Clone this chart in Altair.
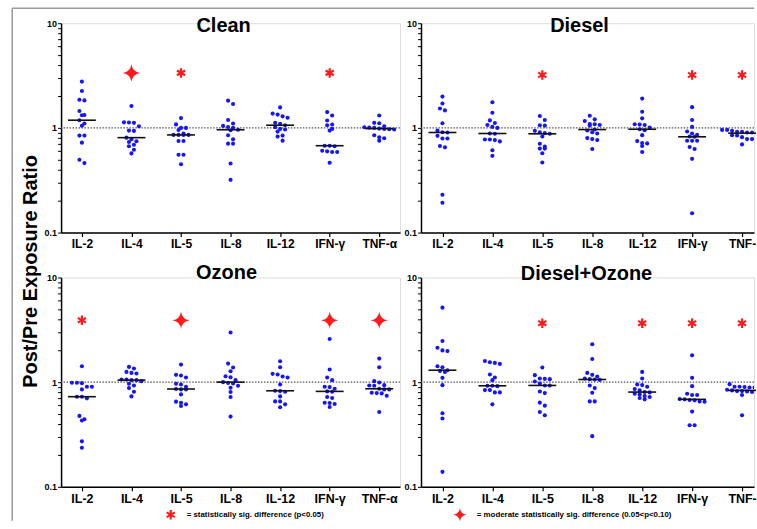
import math
import altair as alt
import pandas as pd

CATS = ["IL-2", "IL-4", "IL-5", "IL-8", "IL-12", "IFN-γ", "TNF-α"]

CLEAN = {
    "IL-2": [2.77, 2.25, 1.86, 1.83, 1.45, 1.33, 1.32, 1.185, 1.10, 1.05, 0.844, 0.844, 0.723, 0.496, 0.461],
    "IL-4": [1.62, 1.13, 1.125, 1.117, 1.037, 0.943, 0.936, 0.807, 0.778, 0.745, 0.733, 0.691, 0.667, 0.619, 0.571],
    "IL-5": [1.24, 1.08, 1.0, 1.0, 0.956, 0.882, 0.857, 0.857, 0.857, 0.857, 0.75, 0.75, 0.554, 0.554, 0.45],
    "IL-8": [1.82, 1.69, 1.19, 1.10, 1.045, 1.02, 1.0, 0.96, 0.95, 0.85, 0.778, 0.707, 0.707, 0.457, 0.319],
    "IL-12": [1.57, 1.37, 1.34, 1.29, 1.25, 1.117, 1.093, 1.061, 1.015, 0.978, 0.964, 0.922, 0.844, 0.826, 0.755],
    "IFN-γ": [1.415, 1.314, 1.176, 1.077, 1.061, 0.978, 0.943, 0.676, 0.676, 0.667, 0.605, 0.597, 0.588, 0.588, 0.464],
    "TNF-α": [1.314, 1.117, 1.109, 1.037, 1.015, 1.007, 1.0, 0.985, 0.978, 0.971, 0.964, 0.85, 0.813, 0.796, 0.755],
}
DIESEL = {
    "IL-2": [1.99, 1.71, 1.53, 1.47, 1.107, 0.944, 0.91, 0.904, 0.84, 0.793, 0.793, 0.671, 0.652, 0.23, 0.193],
    "IL-4": [1.76, 1.395, 1.18, 1.115, 1.067, 1.022, 1.0, 0.884, 0.878, 0.776, 0.776, 0.765, 0.743, 0.611, 0.541],
    "IL-5": [1.298, 1.19, 1.06, 1.052, 0.937, 0.91, 0.891, 0.878, 0.828, 0.706, 0.662, 0.634, 0.634, 0.573, 0.467],
    "IL-8": [1.307, 1.207, 1.164, 1.091, 1.083, 1.067, 1.052, 0.964, 0.944, 0.91, 0.884, 0.799, 0.782, 0.765, 0.629],
    "IL-12": [1.905, 1.426, 1.234, 1.083, 1.075, 1.067, 1.007, 0.971, 0.95, 0.853, 0.748, 0.717, 0.711, 0.671, 0.589],
    "IFN-γ": [1.578, 1.19, 1.022, 0.924, 0.884, 0.859, 0.828, 0.822, 0.754, 0.754, 0.754, 0.657, 0.629, 0.506, 0.153],
    "TNF-α": [0.957, 0.957, 0.937, 0.917, 0.917, 0.904, 0.904, 0.891, 0.878, 0.853, 0.847, 0.816, 0.782, 0.782, 0.696],
}
OZONE = {
    "IL-2": [1.419, 0.986, 0.986, 0.978, 0.903, 0.903, 0.852, 0.726, 0.726, 0.70, 0.476, 0.442, 0.43, 0.272, 0.236],
    "IL-4": [1.398, 1.348, 1.253, 1.226, 1.209, 1.06, 1.06, 1.045, 1.045, 1.022, 0.964, 0.93, 0.877, 0.81, 0.731],
    "IL-5": [1.471, 1.174, 1.157, 1.107, 0.964, 0.95, 0.903, 0.86, 0.852, 0.852, 0.764, 0.651, 0.636, 0.614, 0.592],
    "IL-8": [2.98, 1.503, 1.378, 1.272, 1.14, 1.115, 1.045, 1.0, 0.98, 0.971, 0.923, 0.884, 0.804, 0.721, 0.469],
    "IL-12": [1.582, 1.388, 1.2, 1.183, 1.132, 1.107, 0.95, 0.827, 0.821, 0.81, 0.731, 0.655, 0.655, 0.614, 0.575],
    "IFN-γ": [2.58, 1.319, 1.107, 1.045, 0.903, 0.897, 0.864, 0.816, 0.81, 0.721, 0.705, 0.636, 0.632, 0.618, 0.579],
    "TNF-α": [1.678, 1.388, 1.022, 0.993, 0.936, 0.93, 0.923, 0.864, 0.852, 0.852, 0.792, 0.786, 0.781, 0.741, 0.519],
}
DIESEL_OZONE = {
    "IL-2": [5.15, 2.47, 2.13, 2.01, 1.98, 1.419, 1.388, 1.3, 1.281, 1.253, 1.099, 0.936, 0.504, 0.449, 0.139],
    "IL-4": [1.594, 1.549, 1.526, 1.493, 1.183, 1.107, 1.045, 0.923, 0.923, 0.916, 0.84, 0.84, 0.798, 0.798, 0.614],
    "IL-5": [1.378, 1.166, 1.083, 1.075, 1.068, 1.015, 0.971, 0.93, 0.93, 0.815, 0.786, 0.637, 0.596, 0.519, 0.483],
    "IL-8": [2.3, 1.665, 1.226, 1.174, 1.132, 1.083, 1.068, 1.06, 1.052, 0.93, 0.877, 0.792, 0.655, 0.655, 0.305],
    "IL-12": [1.253, 1.083, 0.95, 0.937, 0.903, 0.858, 0.834, 0.804, 0.798, 0.775, 0.764, 0.736, 0.721, 0.705, 0.685],
    "IFN-γ": [1.804, 1.099, 0.916, 0.775, 0.753, 0.753, 0.69, 0.685, 0.675, 0.67, 0.655, 0.65, 0.523, 0.388, 0.388],
    "TNF-α": [0.957, 0.903, 0.903, 0.897, 0.89, 0.89, 0.846, 0.834, 0.821, 0.821, 0.816, 0.804, 0.78, 0.753, 0.483],
}

# significance markers: "p05" = asterisk (p<0.05), "p10" = star (0.05<p<0.10)
CLEAN_SIG = {"IL-4": "p10", "IL-5": "p05", "IFN-γ": "p05"}
DIESEL_SIG = {"IL-5": "p05", "IFN-γ": "p05", "TNF-α": "p05"}
OZONE_SIG = {"IL-2": "p05", "IL-5": "p10", "IFN-γ": "p10", "TNF-α": "p10"}
DIESEL_OZONE_SIG = {"IL-5": "p05", "IL-12": "p05", "IFN-γ": "p05", "TNF-α": "p05"}
SIG_LEVEL = {"Clean": 3.35, "Diesel": 3.2, "Ozone": 3.9, "Diesel+Ozone": 3.65}

Y_TICKS = [0.1, 0.2, 0.3, 0.4, 0.5, 0.6, 0.7, 0.8, 0.9, 1, 2, 3, 4, 5, 6, 7, 8, 9, 10]

FONT = "Liberation Sans"
BLUE = "#1414ff"
RED = "#ff1a1a"
ASTERISK = "M0,-1L0,1M-0.866,-0.5L0.866,0.5M-0.866,0.5L0.866,-0.5"
STAR = "M0,-1Q0.13,-0.13,1,0Q0.13,0.13,0,1Q-0.13,0.13,-1,0Q-0.13,-0.13,0,-1Z"

PANEL_H = 210


def swarm_offsets(values, px_per_decade=105.0, row_px=4.2, gap=5.0):
    """Prism-like scatter: points of similar value share a row, centred."""
    order = sorted(range(len(values)), key=lambda i: -values[i])
    rows, cur, y0 = [], [], None
    for i in order:
        py = -math.log10(values[i]) * px_per_decade
        if cur and py - y0 > row_px:
            rows.append(cur)
            cur = []
        if not cur:
            y0 = py
        cur.append(i)
    rows.append(cur)
    offs = [0.0] * len(values)
    for row in rows:
        n = len(row)
        for k, i in enumerate(row):
            offs[i] = (k - (n - 1) / 2) * gap
    return offs


def panel(name, data, sig, width, pad, align, title_x, title_y, xfont, right=False):
    rows = []
    for c in CATS:
        vals = data[c]
        for v, o in zip(vals, swarm_offsets(vals)):
            rows.append({"cyt": c, "val": v, "off": o})
    df = pd.DataFrame(rows)
    sig_df = pd.DataFrame(
        [{"cyt": c, "val": SIG_LEVEL[name], "kind": k} for c, k in sig.items()]
    )

    label_expr = "datum.label == 'TNF-α' ? 'TNF-' : datum.label" if right else "datum.label"
    xscale = alt.Scale(type="point", domain=CATS, padding=pad, align=align)
    xaxis = alt.Axis(
        title=None, labelAngle=0, labelFont=FONT, labelFontSize=xfont,
        labelFontWeight="bold", labelColor="black", labelPadding=2,
        tickSize=4, tickColor="black", tickWidth=1.2,
        domainColor="black", domainWidth=1.5, grid=False, labelExpr=label_expr,
    )
    yscale = alt.Scale(type="log", domain=[0.1, 10], nice=False)
    yaxis = alt.Axis(
        title=None, values=Y_TICKS, grid=False,
        labelExpr="datum.value == 10 ? '10' : datum.value == 1 ? '1' : datum.value == 0.1 ? '0.1' : ''",
        labelFont=FONT, labelFontSize=9, labelFontWeight="bold", labelColor="black",
        labelPadding=1, labelOverlap=False, tickSize=3.5, tickColor="black", tickWidth=1,
        domainColor="black", domainWidth=1.5,
    )
    X = alt.X("cyt:N", scale=xscale, axis=xaxis, sort=CATS)

    points = alt.Chart(df).mark_circle(size=17, color=BLUE, opacity=1, clip=right).encode(
        x=X,
        xOffset=alt.XOffset("off:Q", scale=alt.Scale(domain=[-40, 40], range=[-40, 40])),
        y=alt.Y("val:Q", scale=yscale, axis=yaxis),
    )
    ref = alt.Chart(pd.DataFrame({"v": [1]})).mark_rule(
        color="#555555", strokeDash=[1.5, 1.5], strokeWidth=1.3
    ).encode(y=alt.Y("v:Q", scale=yscale))
    median = alt.Chart(df).mark_tick(
        orient="horizontal", size=28, thickness=1.6, color="#111111"
    ).encode(x=X, y=alt.Y("median(val):Q", scale=yscale))
    layers = [ref, points, median]

    ast = sig_df[sig_df["kind"] == "p05"]
    star = sig_df[sig_df["kind"] == "p10"]
    if len(ast):
        layers.append(alt.Chart(ast).mark_point(
            shape=ASTERISK, filled=False, color=RED, size=90, strokeWidth=2.2, opacity=1
        ).encode(x=X, y=alt.Y("val:Q", scale=yscale)))
    if len(star):
        layers.append(alt.Chart(star).mark_point(
            shape=STAR, filled=True, color=RED, size=300, strokeWidth=0, opacity=1
        ).encode(x=X, y=alt.Y("val:Q", scale=yscale)))

    title = alt.Chart(pd.DataFrame({"t": [name]})).mark_text(
        font=FONT, fontSize=20, fontWeight="bold", color="black",
        align="center", baseline="alphabetic",
    ).encode(text="t:N", x=alt.value(title_x), y=alt.value(title_y))
    layers.append(title)
    return layers


LEFT_W, LEFT_PAD, LEFT_ALIGN = 340, 0.4205, 0.5
RIGHT_W, RIGHT_PAD, RIGHT_ALIGN = 334, 0.3345, 0.642

tl_layers = panel("Clean", CLEAN, CLEAN_SIG, LEFT_W, LEFT_PAD, LEFT_ALIGN, 163, 9, 12)
tr_layers = panel("Diesel", DIESEL, DIESEL_SIG, RIGHT_W, RIGHT_PAD, RIGHT_ALIGN, 159, 9, 12, right=True)
bl_layers = panel("Ozone", OZONE, OZONE_SIG, LEFT_W, LEFT_PAD, LEFT_ALIGN, 166, 2, 12.5)
br_layers = panel("Diesel+Ozone", DIESEL_OZONE, DIESEL_OZONE_SIG, RIGHT_W, RIGHT_PAD, RIGHT_ALIGN, 166, 3, 12.5, right=True)

one = pd.DataFrame({"t": ["Post/Pre Exposure Ratio"]})
# shared y title and the figure frame (drawn in the top-left panel's coordinates)
tl_layers.append(alt.Chart(one).mark_text(
    font=FONT, fontSize=20, fontWeight="bold", color="black", angle=270,
    align="center", baseline="middle",
).encode(text="t:N", x=alt.value(-30.5), y=alt.value(249)))
frame_kw = dict(color="#9a9a9a", strokeWidth=1.5)
tl_layers.append(alt.Chart(one).mark_rule(**frame_kw).encode(
    x=alt.value(-49), y=alt.value(-15), y2=alt.value(499)))
tl_layers.append(alt.Chart(one).mark_rule(**frame_kw).encode(
    x=alt.value(-49), x2=alt.value(695), y=alt.value(-15)))

# key for the significance symbols
leg1 = pd.DataFrame({"t": ["= statistically sig. difference (p<0.05)"]})
leg2 = pd.DataFrame({"t": ["= moderate statistically sig. difference (0.05<p<0.10)"]})
bl_layers.append(alt.Chart(leg1).mark_point(
    shape=ASTERISK, filled=False, color=RED, size=90, strokeWidth=2.2, opacity=1
).encode(x=alt.value(110), y=alt.value(238)))
bl_layers.append(alt.Chart(leg1).mark_text(
    font=FONT, fontSize=7.9, fontWeight="bold", color="black", align="left", baseline="middle"
).encode(text="t:N", x=alt.value(126), y=alt.value(238)))
br_layers.append(alt.Chart(leg2).mark_point(
    shape=STAR, filled=True, color=RED, size=170, strokeWidth=0, opacity=1
).encode(x=alt.value(39), y=alt.value(238)))
br_layers.append(alt.Chart(leg2).mark_text(
    font=FONT, fontSize=7.9, fontWeight="bold", color="black", align="left", baseline="middle"
).encode(text="t:N", x=alt.value(56), y=alt.value(238)))

tl = alt.layer(*tl_layers).properties(width=LEFT_W, height=PANEL_H)
tr = alt.layer(*tr_layers).properties(width=RIGHT_W, height=PANEL_H)
bl = alt.layer(*bl_layers).properties(width=LEFT_W, height=PANEL_H)
br = alt.layer(*br_layers).properties(width=RIGHT_W, height=PANEL_H)

chart = alt.concat(
    tl, tr, bl, br, columns=2, bounds="flush",
    spacing=alt.RowColnumber(row=45, column=21),
).properties(
    padding={"left": 10.25, "top": 5.5, "right": 0, "bottom": 0},
    background="white",
).configure_view(stroke=None).configure(font=FONT)

chart.save("out.html", embed_options={"renderer": "svg", "actions": False})
